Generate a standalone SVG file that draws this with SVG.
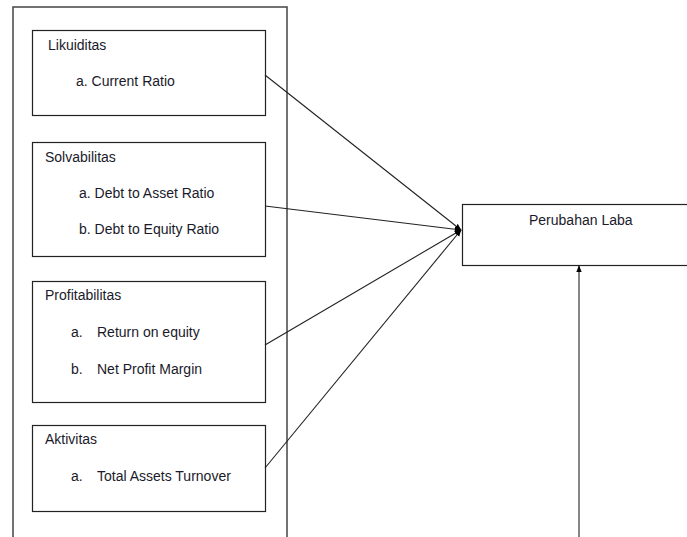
<svg xmlns="http://www.w3.org/2000/svg" width="687" height="537" viewBox="0 0 687 537">
<style>
.box{fill:#fff;stroke:#222;stroke-width:1.2}
.outer{fill:none;stroke:#444;stroke-width:1.5}
text{font-family:"Liberation Sans",Arial,sans-serif;font-size:14px;fill:#1a1a2a}
.conn{stroke:#222;stroke-width:1.1;fill:none}
</style>
<defs>
<marker id="ah" viewBox="0 0 10 10" refX="9" refY="5" markerWidth="7" markerHeight="7" orient="auto" markerUnits="userSpaceOnUse">
<path d="M0,1 L10,5 L0,9 z" fill="#000"/>
</marker>
</defs>
<rect class="outer" x="13" y="7" width="274" height="540"/>
<g id="likuiditas">
<rect class="box" x="32.5" y="30.5" width="233" height="85"/>
<text x="48" y="50">Likuiditas</text>
<text x="76" y="86">a. Current Ratio</text>
</g>
<g id="solvabilitas">
<rect class="box" x="32.5" y="142.5" width="233" height="114"/>
<text x="45" y="162">Solvabilitas</text>
<text x="79" y="198">a. Debt to Asset Ratio</text>
<text x="79" y="234">b. Debt to Equity Ratio</text>
</g>
<g id="profitabilitas">
<rect class="box" x="32.5" y="281.5" width="233" height="121"/>
<text x="45" y="300">Profitabilitas</text>
<text x="71" y="337">a.</text><text x="97" y="337">Return on equity</text>
<text x="71" y="374">b.</text><text x="97" y="374">Net Profit Margin</text>
</g>
<g id="aktivitas">
<rect class="box" x="32.5" y="425.5" width="233" height="86"/>
<text x="45" y="444">Aktivitas</text>
<text x="71" y="481">a.</text><text x="97" y="481">Total Assets Turnover</text>
</g>
<g id="perubahan-laba">
<rect class="box" x="462.5" y="204.5" width="240" height="61"/>
<text x="529" y="225">Perubahan Laba</text>
</g>
<g id="connectors">
<line class="conn" x1="265" y1="75" x2="461" y2="230" marker-end="url(#ah)"/>
<line class="conn" x1="265" y1="206" x2="461" y2="230" marker-end="url(#ah)"/>
<line class="conn" x1="265" y1="345" x2="461" y2="230" marker-end="url(#ah)"/>
<line class="conn" x1="265" y1="468" x2="461" y2="230" marker-end="url(#ah)"/>
<line class="conn" x1="579" y1="540" x2="579" y2="266" marker-end="url(#ah)"/>
</g>
</svg>
